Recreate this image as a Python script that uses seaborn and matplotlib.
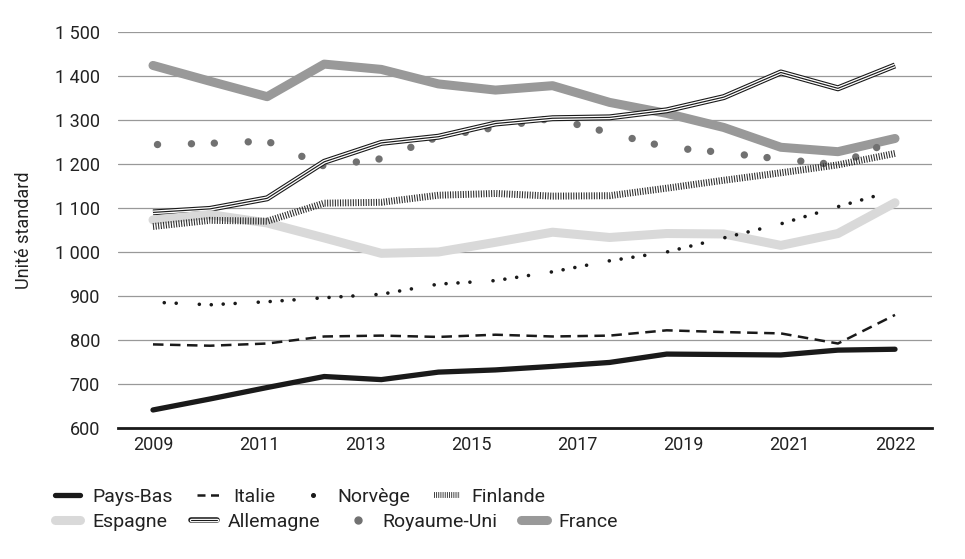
import numpy as np
import pandas as pd
import matplotlib
matplotlib.use('Agg')
import matplotlib.pyplot as plt
from matplotlib.lines import Line2D
import seaborn as sns

sns.set_style('white')
plt.rcParams['font.family'] = ['Roboto', 'DejaVu Sans']

# Data
years = list(range(2009, 2023))
pays_bas = [641, 666, 692, 717, 710, 727, 732, 740, 749, 768, 767, 766, 777, 779]
italie = [790, 787, 792, 808, 810, 807, 812, 808, 810, 822, 818, 815, 792, 857]
norvege = [886, 880, 887, 896, 904, 927, 935, 955, 980, 1000, 1032, 1064, 1103, 1140]
finlande = [1058, 1072, 1070, 1111, 1113, 1129, 1133, 1127, 1128, 1145, 1163, 1180, 1198, 1224]
espagne = [1073, 1085, 1066, 1032, 997, 1000, 1022, 1045, 1033, 1042, 1041, 1015, 1042, 1112]
allemagne = [1090, 1098, 1122, 1205, 1248, 1262, 1292, 1304, 1306, 1322, 1352, 1408, 1372, 1424]
royaume_uni = [1244, 1247, 1252, 1195, 1212, 1262, 1283, 1304, 1271, 1238, 1226, 1211, 1198, 1256]
france = [1424, 1388, 1353, 1427, 1415, 1382, 1368, 1378, 1340, 1315, 1283, 1238, 1228, 1258]

x_labels = ['2009', '2011', '2013', '2015', '2017', '2019', '2021', '2022']
y_ticks = list(range(600, 1501, 100))

series = {
    'Pays-Bas': pays_bas, 'Italie': italie, 'Norvège': norvege, 'Finlande': finlande,
    'Espagne': espagne, 'Allemagne': allemagne, 'Royaume-Uni': royaume_uni, 'France': france,
}
df = pd.DataFrame([(p, y, v) for p, vals in series.items() for y, v in zip(years, vals)],
                  columns=['pays', 'annee', 'valeur'])

# styles (several layers for the triple line)
styles = {
    'France': [dict(color='#999999', lw=6.5, solid_capstyle='round', solid_joinstyle='round')],
    'Royaume-Uni': [dict(color='#717171', lw=5.3, linestyle=(2.5, (0.01, 3.1, 0.01, 4.6)),
                         dash_capstyle='round')],
    'Allemagne': [dict(color='#1a1a1a', lw=4.3, solid_joinstyle='round', solid_capstyle='butt'),
                  dict(color='white', lw=2.7, solid_joinstyle='round', solid_capstyle='butt'),
                  dict(color='#1a1a1a', lw=0.85, solid_joinstyle='round', solid_capstyle='butt')],
    'Espagne': [dict(color='#d9d9d9', lw=6.5, solid_capstyle='round', solid_joinstyle='round')],
    'Finlande': [dict(color='#2a2a2a', lw=5.0, linestyle=(0, (0.15, 0.22)), dash_capstyle='butt')],
    'Norvège': [dict(color='#1a1a1a', lw=2.6,
                     linestyle=(3.5, (0.01, 3.3, 0.01, 3.3, 0.01, 3.3, 0.01, 6.4)),
                     dash_capstyle='round')],
    'Italie': [dict(color='#1a1a1a', lw=1.8, linestyle=(0, (4.2, 2.6)), dash_capstyle='butt')],
    'Pays-Bas': [dict(color='#1a1a1a', lw=3.8, solid_capstyle='round', solid_joinstyle='round')],
}

fig = plt.figure(figsize=(9.65, 5.59), dpi=100)
ax = fig.add_axes([118 / 965, 1 - 428 / 559, (932 - 118) / 965, (428 - 32) / 559])

for pays in ['France', 'Royaume-Uni', 'Allemagne', 'Espagne', 'Finlande', 'Norvège', 'Italie', 'Pays-Bas']:
    sub = df[df['pays'] == pays]
    for st in styles[pays]:
        sns.lineplot(data=sub, x='annee', y='valeur', ax=ax, legend=False, **st)

# legend handles
leg_h = {
    'Pays-Bas': Line2D([], [], color='#1a1a1a', lw=3.8, solid_capstyle='round'),
    'Italie': Line2D([], [], color='#1a1a1a', lw=1.8, linestyle=(0, (3.2, 2.2))),
    'Norvège': Line2D([], [], color='#1a1a1a', marker='o', markersize=2.6, linestyle='none'),
    'Finlande': Line2D([], [], color='#2a2a2a', lw=4.2, linestyle=(0, (0.15, 0.22))),
    'Espagne': Line2D([], [], color='#d9d9d9', lw=6.5, solid_capstyle='round'),
    'Allemagne': (Line2D([], [], color='#1a1a1a', lw=4.0), Line2D([], [], color='white', lw=2.5),
                  Line2D([], [], color='#1a1a1a', lw=0.8)),
    'Royaume-Uni': Line2D([], [], color='#717171', marker='o', markersize=5, linestyle='none'),
    'France': Line2D([], [], color='#999999', lw=6.5, solid_capstyle='round'),
}

ax.set_xlim(2008.387, 2022.648)
ax.set_ylim(600, 1500)
ax.set_xticks(np.linspace(years[0], years[-1], len(x_labels)))
ax.set_xticklabels(x_labels)
ax.set_yticks(y_ticks)
ax.set_yticklabels([f'{v:,}'.replace(',', ' ') for v in y_ticks])
ax.tick_params(length=0, labelsize=13, colors='#222222')
ax.tick_params(axis='y', pad=13)
ax.tick_params(axis='x', pad=6)
ax.set_xlabel('')
ax.set_ylabel('Unité standard', fontsize=13, color='#222222')
ax.yaxis.set_label_coords(-(118 - 33) / 814, 0.5)

ax.yaxis.grid(True, color='#999999', lw=0.9)
ax.xaxis.grid(False)
ax.set_axisbelow(True)
for s in ['left', 'right', 'top']:
    ax.spines[s].set_visible(False)
ax.spines['bottom'].set_color('#1a1a1a')
ax.spines['bottom'].set_linewidth(2.0)
ax.spines['bottom'].set_zorder(5)

rows = [['Pays-Bas', 'Italie', 'Norvège', 'Finlande'],
        ['Espagne', 'Allemagne', 'Royaume-Uni', 'France']]
for i, row in enumerate(rows):
    y = 1 - (497 + 25 * i) / 559
    fig.legend([leg_h[p] for p in row], row, loc='center left', bbox_to_anchor=(55 / 965, y),
               ncol=4, frameon=False, fontsize=14, handlelength=1.3, handletextpad=0.6,
               columnspacing=1.25, borderpad=0, borderaxespad=0, labelcolor='#222222')

fig.savefig('out.png', dpi=100)
